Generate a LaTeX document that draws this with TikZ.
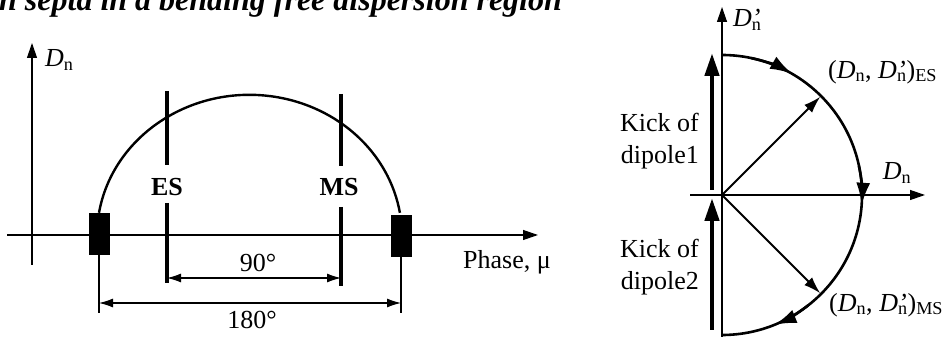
\documentclass[tikz,border=0pt]{standalone}
\usepackage{fontspec}
\setmainfont{Liberation Serif}
\usepackage{tikz}
\usetikzlibrary{arrows.meta, positioning}

\newcommand{\Dn}{\textit{D}\textsubscript{n}}
\newcommand{\Dpn}{\textit{D}\rlap{\textit{'}}\textsubscript{n}}

\begin{document}
\begin{tikzpicture}[x=1pt, y=1pt,
    axis/.style={line width=1.2pt, -{Triangle[length=15pt, width=10pt]}},
    dim/.style={line width=1.1pt, {Latex[length=14pt, width=9pt]}-{Latex[length=14pt, width=9pt]}},
    extline/.style={line width=1.1pt},
    septum/.style={line width=3.2pt},
    blk/.style={draw, fill=black, minimum width=20pt, minimum height=41pt, inner sep=0pt},
    orbit/.style={line width=2.6pt},
    orbitarrow/.style={line width=2.6pt, -{Latex[length=22pt, width=14pt]}},
    vec/.style={line width=1.8pt, -{Latex[length=17pt, width=11pt]}},
    kick/.style={line width=4.5pt, -{Triangle[length=23pt, width=14pt]}},
    lbl/.style={font=\fontsize{26}{32}\selectfont, inner sep=0pt}]
  \useasboundingbox (0,0) rectangle (949,347);

  % title, cut off at the top
  \node[anchor=base west, inner sep=0pt, font=\fontsize{32}{36}\selectfont\bfseries\itshape] (title) at (-1,336) {n septa in a bending free dispersion region};

  % left: D_n against phase
  \coordinate (yb) at (32,82);
  \coordinate (yt) at (32,304);
  \coordinate (xl) at (7,112);
  \coordinate (xr) at (538,112);
  \draw[axis] (yb) -- (yt);
  \draw[axis] (xl) -- (xr);
  \node[lbl, anchor=west] (dn) at (45,287) {\Dn};
  \node[lbl, anchor=west] (phase) at (463,85) {Phase, μ};

  \node[blk] (lblk) at (99,113.5) {};
  \node[blk] (rblk) at (401,111.5) {};
  \draw[line width=2.4pt] (lblk.north) arc[start angle=170.6, end angle=9.4, x radius=152.5, y radius=141];

  % septa
  \node[lbl, font=\fontsize{26}{32}\selectfont\bfseries] (es) at (167,160) {ES};
  \node[lbl, font=\fontsize{26}{32}\selectfont\bfseries] (ms) at (339,160) {MS};
  \coordinate (es1) at (167,256);
  \coordinate (es2) at (167,182);
  \coordinate (es3) at (167,144);
  \coordinate (es4) at (167,64);
  \coordinate (ms1) at (341,253);
  \coordinate (ms2) at (341,181);
  \coordinate (ms3) at (341,140);
  \coordinate (ms4) at (341,61);
  \draw[septum] (es1) -- (es2) (es3) -- (es4);
  \draw[septum] (ms1) -- (ms2) (ms3) -- (ms4);

  % phase distances
  \coordinate (d90l) at (167,69);
  \coordinate (d90r) at (341,69);
  \draw[dim] (d90l) -- (d90r);
  \node[lbl] (n90) at (258,84) {90°};
  \coordinate (e180l) at (99,34);
  \coordinate (e180r) at (401,34);
  \coordinate (d180l) at (99,44);
  \coordinate (d180r) at (401,44);
  \draw[extline] (lblk.south) -- (e180l);
  \draw[extline] (rblk.south) -- (e180r);
  \draw[dim] (d180l) -- (d180r);
  \node[lbl] (n180) at (252,27) {180°};

  % right: phase space
  \coordinate (O) at (722,152);
  \coordinate (vb) at (722,10);
  \coordinate (vt) at (722,340);
  \coordinate (hl) at (690,152);
  \coordinate (hr) at (925,152);
  \draw[axis] (vb) -- (vt);
  \draw[axis] (hl) -- (hr);
  \node[lbl, anchor=west] (dpn) at (733,327) {\Dpn};
  \node[lbl] (dn2) at (897,174) {\Dn};

  \coordinate (c0) at ([shift={(90:140)}]O);
  \coordinate (a1) at ([shift={(78:140)}]O);
  \coordinate (a2) at ([shift={(12:140)}]O);
  \coordinate (a3) at ([shift={(-52:140)}]O);
  \draw[orbit] (c0) arc[start angle=90, end angle=-90, radius=140];
  \draw[orbitarrow] (a1) arc[start angle=78, end angle=60, radius=140];
  \draw[orbitarrow] (a2) arc[start angle=12, end angle=-4, radius=140];
  \draw[orbitarrow] (a3) arc[start angle=-52, end angle=-68, radius=140];

  \coordinate (pes) at ([shift={(45:139)}]O);
  \coordinate (pms) at ([shift={(-45:139)}]O);
  \draw[vec] (O) -- (pes);
  \draw[vec] (O) -- (pms);
  \node[lbl, anchor=west] (les) at (828,275) {(\Dn, \Dpn)\textsubscript{ES}};
  \node[lbl, anchor=west] (lms) at (829,42) {(\Dn, \Dpn)\textsubscript{MS}};

  % dipole kicks
  \coordinate (k1b) at (712,157);
  \coordinate (k1t) at (712,294);
  \coordinate (k2b) at (712,17);
  \coordinate (k2t) at (712,149);
  \draw[kick] (k1b) -- (k1t);
  \draw[kick] (k2b) -- (k2t);
  \node[lbl, align=right, anchor=east] (kick1) at (699,206) {Kick of\\dipole1};
  \node[lbl, align=right, anchor=east] (kick2) at (699,80) {Kick of\\dipole2};
\end{tikzpicture}
\end{document}
